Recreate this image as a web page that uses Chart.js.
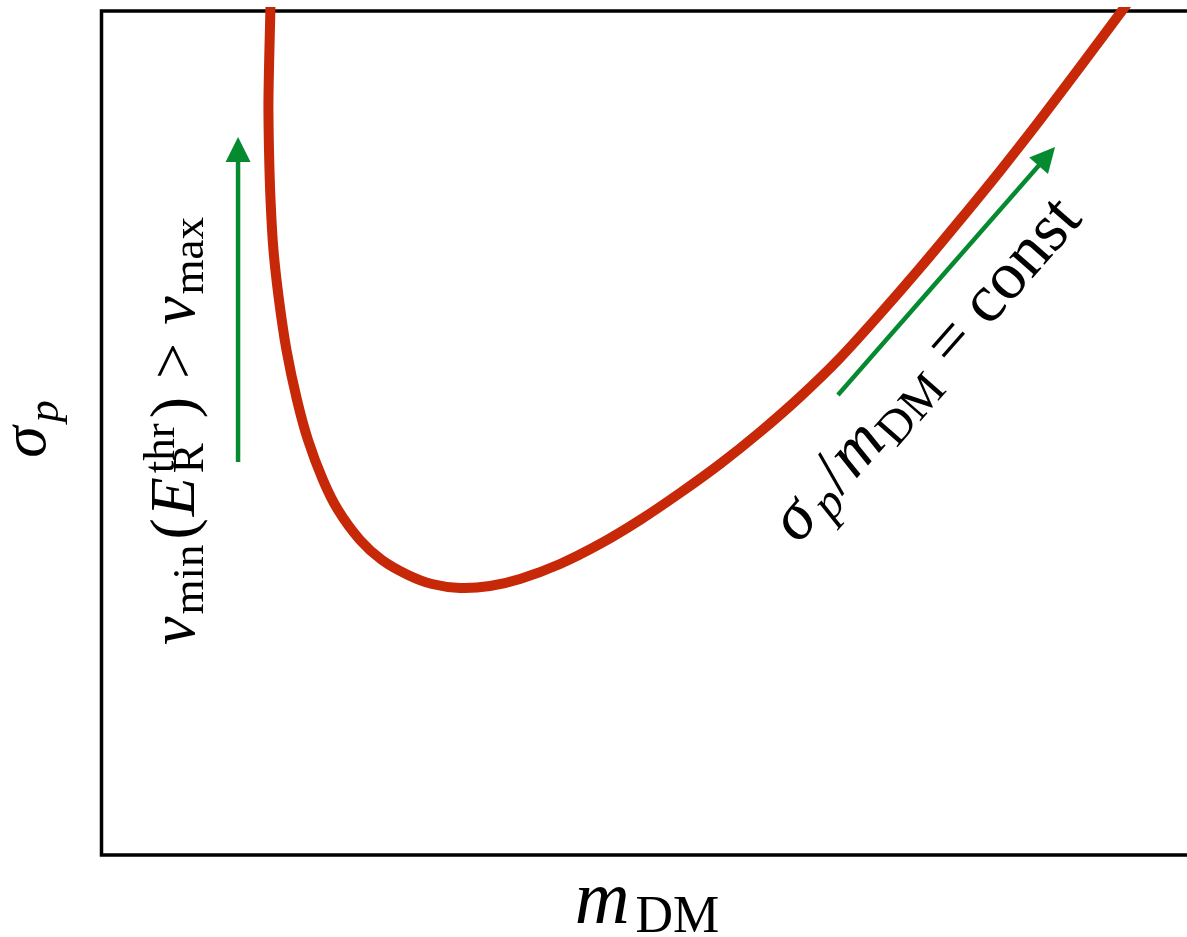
<!DOCTYPE html>
<html>
<head>
<meta charset="utf-8">
<script src="https://cdn.jsdelivr.net/npm/chart.js@4.4.1/dist/chart.umd.min.js"></script>
<style>
html,body{margin:0;padding:0;background:#fff;}
#wrap{width:1187px;height:937px;position:relative;}
</style>
</head>
<body>
<div id="wrap"><canvas id="c"></canvas></div>
<script>
// Schematic exclusion curve (arbitrary units)
const massValues  = [1.561, 1.542, 1.547, 1.561, 1.588, 1.639, 1.708, 1.805, 1.906, 2.044, 2.182, 2.385, 2.587, 2.827, 3.048, 3.306, 3.582, 3.858, 4.227, 4.595, 4.963, 5.331, 5.700, 6.068, 6.436, 6.805, 7.173, 7.541, 7.910, 8.278, 8.646, 9.015, 9.448];
const sigmaValues = [10.083, 8.946, 8.353, 7.761, 7.168, 6.576, 5.983, 5.391, 4.917, 4.443, 4.088, 3.732, 3.495, 3.318, 3.211, 3.164, 3.187, 3.270, 3.448, 3.685, 3.969, 4.289, 4.633, 5.012, 5.427, 5.889, 6.410, 6.955, 7.524, 8.104, 8.709, 9.336, 10.083];
const xRange = [0, 10];
const yRange = [0, 10];

// Annotation arrows (data units: start -> tip)
const arrowThreshold = { x: [1.262, 1.262], y: [4.656, 8.507] };
const arrowConst     = { x: [6.786, 8.785], y: [5.450, 8.389] };

// Text labels
const xTitle = [{t:'m', it:true, size:76}, {t:'DM', size:52, dy:9, pre:6}];
const yTitle = [{t:'σ', it:true, size:64}, {t:'p', it:true, size:44, dy:13, pre:4}];
const thresholdLabel = [
  {t:'v', it:true, size:64},
  {t:'min', size:45, dy:9, pre:2},
  {t:'(', size:64, pre:5},
  {t:'E', it:true, size:64, pre:2},
  {stack:[{t:'thr', size:45, dy:-20}, {t:'R', size:45, dy:9}], pre:4},
  {t:')', size:64, pre:5},
  {t:' > ', size:64, pre:2},
  {t:'v', it:true, size:64, pre:2},
  {t:'max', size:45, dy:9, pre:2}
];
const constLabel = [
  {t:'σ', it:true, size:68},
  {t:'p', it:true, size:48, dy:10, pre:6},
  {t:'/', size:68, pre:2},
  {t:'m', it:true, size:68, pre:2},
  {t:'DM', size:48, dy:10, pre:2},
  {t:' = ', size:68, pre:2},
  {t:'const', size:68}
];
const labelPositions = {
  threshold: { x: 0.856, y: 2.488, angle: -90 },
  constant:  { x: 6.420, y: 3.673, angle: -48.7 }
};

const RED = '#C62808';
const GREEN = '#068A30';
const FONT = '"Liberation Serif", "Times New Roman", serif';

function fnt(s){ return (s.it ? 'italic ' : '') + s.size + 'px ' + FONT; }

function drawMath(ctx, segs, x, y, angle, align){
  ctx.save();
  ctx.translate(x, y);
  ctx.rotate(angle * Math.PI / 180);
  const ws = [];
  let total = 0;
  for (const s of segs){
    let w;
    if (s.stack){
      w = 0;
      for (const t of s.stack){ ctx.font = fnt(t); w = Math.max(w, ctx.measureText(t.t).width); }
    } else {
      ctx.font = fnt(s); w = ctx.measureText(s.t).width;
    }
    ws.push(w);
    total += w + (s.pre || 0);
  }
  let cx = align === 'center' ? -total / 2 : 0;
  ctx.fillStyle = '#000';
  ctx.textAlign = 'left';
  ctx.textBaseline = 'alphabetic';
  segs.forEach((s, i) => {
    cx += (s.pre || 0);
    if (s.stack){
      for (const t of s.stack){ ctx.font = fnt(t); ctx.fillText(t.t, cx, t.dy || 0); }
    } else {
      ctx.font = fnt(s); ctx.fillText(s.t, cx, s.dy || 0);
    }
    cx += ws[i];
  });
  ctx.restore();
}

function drawArrow(ctx, xs, ys, sx, sy){
  const x0 = sx.getPixelForValue(xs[0]), y0 = sy.getPixelForValue(ys[0]);
  const x1 = sx.getPixelForValue(xs[1]), y1 = sy.getPixelForValue(ys[1]);
  const dx = x1 - x0, dy = y1 - y0, L = Math.hypot(dx, dy);
  const ux = dx / L, uy = dy / L;
  const headLen = 25, headHalf = 12.5;
  const bx = x1 - ux * headLen, by = y1 - uy * headLen;
  ctx.save();
  ctx.strokeStyle = GREEN; ctx.fillStyle = GREEN;
  ctx.lineWidth = 4.5; ctx.lineCap = 'butt';
  ctx.beginPath(); ctx.moveTo(x0, y0); ctx.lineTo(bx + ux * 2, by + uy * 2); ctx.stroke();
  ctx.beginPath();
  ctx.moveTo(x1, y1);
  ctx.lineTo(bx - uy * headHalf, by + ux * headHalf);
  ctx.lineTo(bx + uy * headHalf, by - ux * headHalf);
  ctx.closePath(); ctx.fill();
  ctx.restore();
}

const framePlugin = {
  id: 'frame',
  beforeDatasetsDraw(chart){
    const {ctx, chartArea: a, width} = chart;
    ctx.save();
    ctx.strokeStyle = '#000'; ctx.lineWidth = 3.5;
    ctx.lineJoin = 'miter';
    ctx.beginPath();
    ctx.moveTo(width + 5, a.top); ctx.lineTo(a.left + 0.5, a.top);
    ctx.lineTo(a.left + 0.5, a.bottom); ctx.lineTo(width + 5, a.bottom);
    ctx.stroke();
    ctx.restore();
  },
  afterDatasetsDraw(chart){
    const {ctx, scales:{x, y}} = chart;
    drawArrow(ctx, arrowThreshold.x, arrowThreshold.y, x, y);
    drawArrow(ctx, arrowConst.x, arrowConst.y, x, y);
  },
  afterDraw(chart){
    const {ctx, chartArea: a, scales:{x, y}} = chart;
    drawMath(ctx, xTitle, (a.left + a.right) / 2 + 3, a.bottom + 68, 0, 'center');
    drawMath(ctx, yTitle, a.left - 56, (a.top + a.bottom) / 2 - 4, -90, 'center');
    const p1 = labelPositions.threshold, p2 = labelPositions.constant;
    drawMath(ctx, thresholdLabel, x.getPixelForValue(p1.x), y.getPixelForValue(p1.y), p1.angle, 'left');
    drawMath(ctx, constLabel, x.getPixelForValue(p2.x), y.getPixelForValue(p2.y), p2.angle, 'left');
  }
};

new Chart(document.getElementById('c'), {
  type: 'scatter',
  data: {
    datasets: [{
      data: massValues.map((m, i) => ({x: m, y: sigmaValues[i]})),
      showLine: true,
      borderColor: RED,
      borderWidth: 10,
      pointRadius: 0,
      tension: 0.3,
      clip: 4
    }]
  },
  options: {
    responsive: true,
    maintainAspectRatio: false,
    animation: false,
    layout: { padding: { left: 101, top: 11, right: 0, bottom: 82 } },
    plugins: { legend: { display: false }, tooltip: { enabled: false } },
    scales: {
      x: { type: 'linear', min: xRange[0], max: xRange[1], display: false },
      y: { type: 'linear', min: yRange[0], max: yRange[1], display: false }
    }
  },
  plugins: [framePlugin]
});
</script>
</body>
</html>
